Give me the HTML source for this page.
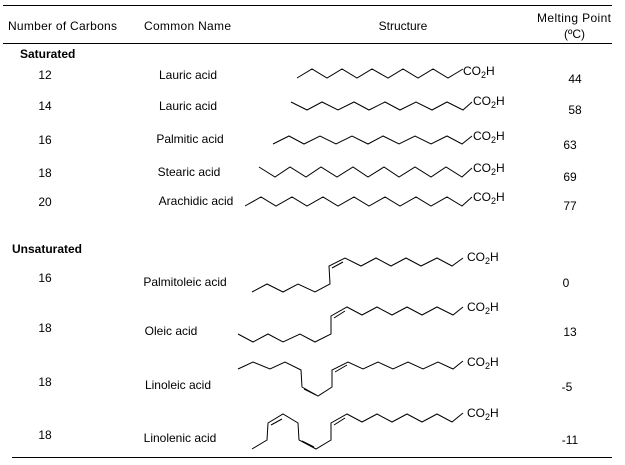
<!DOCTYPE html>
<html><head><meta charset="utf-8"><style>
html,body{margin:0;padding:0;background:#fff;}
svg{display:block;}
text{font-family:"Liberation Sans",Arial,sans-serif;font-size:12px;fill:#000;}
.b{font-weight:bold;}
polyline,line{fill:none;stroke:#000;stroke-width:1;}
</style></head><body>
<svg width="625" height="465" viewBox="0 0 625 465" xmlns="http://www.w3.org/2000/svg">
<line x1="3" y1="5.5" x2="612" y2="5.5"/>
<line x1="3" y1="43.5" x2="612" y2="43.5"/>
<line x1="12" y1="457.5" x2="612" y2="457.5"/>
<text x="8" y="30" textLength="109">Number of Carbons</text>
<text x="144" y="30" textLength="87">Common Name</text>
<text x="403" y="30" text-anchor="middle">Structure</text>
<text x="537" y="22" textLength="74">Melting Point</text>
<text x="564" y="38">(ºC)</text>
<text class="b" x="20" y="58">Saturated</text>
<text class="b" x="12" y="253">Unsaturated</text>
<g text-anchor="middle">
<text x="45" y="79">12</text><text x="45" y="110">14</text><text x="45" y="144">16</text><text x="45" y="177">18</text><text x="45" y="206">20</text>
<text x="45" y="282">16</text><text x="45" y="332">18</text><text x="45" y="386">18</text><text x="45" y="439">18</text>
<text x="188" y="79">Lauric acid</text><text x="188" y="110">Lauric acid</text><text x="190" y="143">Palmitic acid</text>
<text x="189" y="176">Stearic acid</text><text x="196" y="205">Arachidic acid</text>
<text x="185" y="286">Palmitoleic acid</text><text x="171" y="335">Oleic acid</text>
<text x="178" y="389">Linoleic acid</text><text x="180" y="442">Linolenic acid</text>
<text x="575" y="83">44</text><text x="575" y="114">58</text><text x="570" y="149">63</text><text x="570" y="181">69</text><text x="570" y="210">77</text>
<text x="566" y="287">0</text><text x="570" y="336">13</text><text x="567" y="391">-5</text><text x="570" y="444">-11</text>
</g>
<polyline points="297,78 312,69 327,78 342,69 357,78 372,69 388,78 403,69 418,78 433,69 448,78 463,69"/>
<polyline points="291,102 307,110 322,102 338,110 354,102 369,110 385,102 400,110 416,102 432,110 447,102 463,110 472,102"/>
<polyline points="273,144 289,136 304,144 320,136 336,144 352,136 368,144 383,136 399,144 415,136 431,144 447,136 462,144 472,136"/>
<polyline points="259,167 275,177 290,167 306,177 321,167 337,177 353,167 368,177 384,167 399,177 415,167 431,177 446,167 462,177 472,168"/>
<polyline points="245,206 261,197 276,206 292,197 307,206 323,197 338,206 354,197 369,206 385,197 400,206 416,197 431,206 447,197 462,206 472,197"/>
<polyline points="252,292 267,284 283,292 298,284 315,292 330,284 329,266 345,258 361,266 376,258 391,266 406,258 421,266 437,258 452,266 463,258"/>
<line x1="332" y1="268" x2="343" y2="262"/>
<polyline points="238,334 253,342 268,334 283,342 300,334 315,342 331,334 331,316 347,307 362,315 377,307 392,315 407,307 422,315 437,307 453,315 463,307"/>
<line x1="334" y1="318" x2="345" y2="311"/>
<polyline points="238,369 253,362 270,369 285,362 301,370 302,387 318,396 332,387 332,370 348,362 363,369 378,362 393,369 408,362 423,369 438,362 453,369 463,361"/>
<line x1="304" y1="389" x2="316" y2="395"/>
<line x1="335" y1="372" x2="347" y2="365"/>
<polyline points="252,449 267,440 268,423 283,414 298,423 299,440 316,449 331,440 331,423 347,414 362,422 377,414 392,422 407,414 422,422 437,414 452,422 463,413"/>
<line x1="271" y1="425" x2="282" y2="419"/>
<line x1="302" y1="441" x2="314" y2="447"/>
<line x1="334" y1="425" x2="345" y2="418"/>
<text x="463" y="75">CO<tspan font-size="9" dy="3">2</tspan><tspan dy="-3">H</tspan></text>
<text x="473" y="105">CO<tspan font-size="9" dy="3">2</tspan><tspan dy="-3">H</tspan></text>
<text x="473" y="140">CO<tspan font-size="9" dy="3">2</tspan><tspan dy="-3">H</tspan></text>
<text x="473" y="172">CO<tspan font-size="9" dy="3">2</tspan><tspan dy="-3">H</tspan></text>
<text x="473" y="201">CO<tspan font-size="9" dy="3">2</tspan><tspan dy="-3">H</tspan></text>
<text x="467" y="261">CO<tspan font-size="9" dy="3">2</tspan><tspan dy="-3">H</tspan></text>
<text x="467" y="311">CO<tspan font-size="9" dy="3">2</tspan><tspan dy="-3">H</tspan></text>
<text x="467" y="366">CO<tspan font-size="9" dy="3">2</tspan><tspan dy="-3">H</tspan></text>
<text x="467" y="417">CO<tspan font-size="9" dy="3">2</tspan><tspan dy="-3">H</tspan></text>
</svg>
</body></html>
